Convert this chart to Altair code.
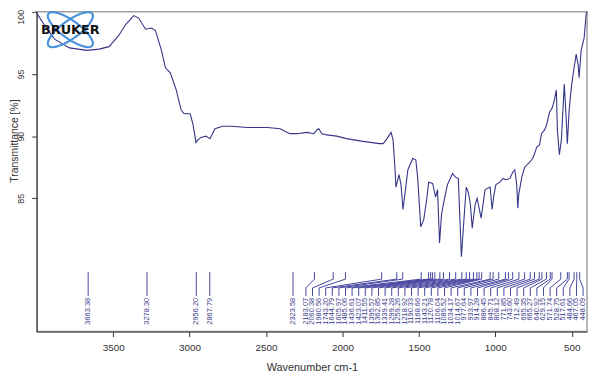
import altair as alt
import numpy as np
import pandas as pd

# ---- spectrum (wavenumber cm-1, transmittance %) ----
wavenumber = [4000, 3948, 3883, 3786, 3670, 3592, 3527, 3463, 3417, 3365, 3333, 3288, 3249, 3223,
              3184, 3158, 3126, 3087, 3055, 3035, 2996, 2977, 2958, 2945, 2925, 2893, 2867, 2834,
              2783, 2731, 2621, 2491, 2407, 2362, 2342, 2297, 2232, 2187, 2168, 2155, 2135, 2103,
              2038, 1973, 1876, 1760, 1734, 1708, 1682, 1669, 1663, 1656, 1650, 1630, 1617, 1604,
              1592, 1572, 1540, 1520, 1507, 1488, 1468, 1449, 1436, 1410, 1391, 1378, 1365, 1352,
              1339, 1313, 1280, 1261, 1242, 1222, 1203, 1190, 1177, 1164, 1151, 1132, 1119, 1106,
              1093, 1067, 1034, 1021, 1009, 996, 970, 950, 931, 905, 886, 873, 860, 853, 847, 827,
              808, 775, 756, 743, 730, 711, 698, 678, 665, 646, 627, 614, 601, 594, 581, 568, 549,
              536, 529, 517, 503, 491, 471, 458, 452, 439, 419, 406, 400]
transmittance = [99.9, 98.9, 97.8, 97.1, 96.9, 97.0, 97.2, 98.1, 99.0, 99.7, 99.5, 98.6, 98.7, 98.5,
                 96.9, 95.5, 95.1, 93.7, 92.1, 91.8, 91.8, 90.9, 89.5, 89.7, 89.9, 90.0, 89.8, 90.6,
                 90.8, 90.8, 90.7, 90.7, 90.6, 90.3, 90.2, 90.2, 90.3, 90.2, 90.5, 90.6, 90.2, 90.1,
                 90.0, 89.8, 89.6, 89.4, 89.4, 89.8, 90.3, 89.7, 88.6, 87.3, 85.9, 86.9, 86.1, 84.1,
                 85.3, 87.3, 88.2, 88.1, 86.5, 82.7, 83.3, 84.9, 86.3, 86.2, 85.1, 85.7, 81.4, 83.7,
                 84.6, 86.1, 87.0, 86.7, 86.6, 80.3, 83.7, 85.9, 85.5, 84.6, 82.6, 84.5, 85.0, 84.2,
                 83.4, 85.7, 85.9, 84.1, 85.3, 86.1, 86.3, 86.6, 86.5, 86.6, 87.1, 87.3, 86.1, 84.2,
                 85.3, 86.7, 87.5, 87.9, 88.2, 88.6, 89.1, 89.3, 90.2, 90.5, 90.9, 91.9, 92.3, 92.9,
                 93.7, 90.5, 88.5, 89.7, 94.2, 91.3, 89.4, 92.1, 93.9, 95.0, 96.6, 95.7, 94.7, 96.9,
                 97.9, 99.8, 100.0]

# ---- peak picks ----
peaks_isolated = [3663.38, 3278.30, 2956.20, 2867.79, 2323.58]
peaks_crowded = [2183.07, 2060.38, 1980.56, 1743.20, 1644.79, 1605.97, 1485.06, 1436.61, 1423.07,
                 1411.55, 1395.57, 1362.85, 1339.41, 1299.28, 1259.26, 1218.92, 1190.33, 1168.66,
                 1143.21, 1120.78, 1106.04, 1089.52, 1034.17, 1014.67, 977.64, 933.97, 914.28,
                 886.45, 845.71, 808.12, 771.85, 743.60, 712.49, 695.35, 665.27, 640.92, 629.15,
                 571.74, 528.75, 517.61, 484.66, 467.05, 448.09]

x_ticks = [500, 1000, 1500, 2000, 2500, 3000, 3500]
y_ticks = [85, 90, 95, 100]

spec = pd.DataFrame({"wn": wavenumber, "t": transmittance})

# label layout: isolated labels sit under their peak, crowded ones are spread evenly
label_x = peaks_isolated + list(np.linspace(2239, 426, len(peaks_crowded)))
all_peaks = peaks_isolated + peaks_crowded
ann = pd.DataFrame({
    "peak": all_peaks,
    "lx": label_x,
    "label": [f"{p:.2f}" for p in all_peaks],
})
ann["y_top"] = 79.06
ann["y_k1"] = 78.50
ann["y_k2"] = 77.79
ann["y_bot"] = 77.15
ann["y_lab"] = 76.99

xscale = alt.Scale(domain=[400, 4000], reverse=True, nice=False, zero=False)
yscale = alt.Scale(domain=[74.28, 100], nice=False, zero=False)

xaxis = alt.Axis(values=x_ticks, format="d", title="Wavenumber cm-1", grid=False,
                 tickSize=5, labelPadding=6, titlePadding=9, labelFontSize=10, titleFontSize=11)
yaxis = alt.Axis(values=y_ticks, title="Transmittance [%]", grid=False, tickSize=5,
                 labelAngle=270, labelAlign="center", labelBaseline="bottom",
                 labelPadding=6, labelFontSize=9, titleFontSize=10.5,
                 labelOffset={"condition": {"test": "datum.value == 100", "value": 5}, "value": 0},
                 titleAngle=270, titleBaseline="bottom", titleAlign="center",
                 titleX=-17, titleY=130)

ANN_COLOR = "#4545a0"
TXT_COLOR = "#3a3a8c"

line = alt.Chart(spec).mark_line(color="#35358a", strokeWidth=1.1).encode(
    x=alt.X("wn:Q", scale=xscale, axis=xaxis),
    y=alt.Y("t:Q", scale=yscale, axis=yaxis),
)

seg1 = alt.Chart(ann).mark_rule(color=ANN_COLOR, strokeWidth=1).encode(
    x=alt.X("peak:Q", scale=xscale, axis=xaxis),
    y=alt.Y("y_top:Q", scale=yscale, axis=yaxis),
    y2="y_k1:Q",
)
seg2 = alt.Chart(ann).mark_rule(color=ANN_COLOR, strokeWidth=1).encode(
    x=alt.X("peak:Q", scale=xscale, axis=xaxis),
    y=alt.Y("y_k1:Q", scale=yscale, axis=yaxis),
    x2="lx:Q",
    y2="y_k2:Q",
)
seg3 = alt.Chart(ann).mark_rule(color=ANN_COLOR, strokeWidth=1).encode(
    x=alt.X("lx:Q", scale=xscale, axis=xaxis),
    y=alt.Y("y_k2:Q", scale=yscale, axis=yaxis),
    y2="y_bot:Q",
)
labels = alt.Chart(ann).mark_text(angle=270, align="right", baseline="middle", fontSize=7.5,
                                  color=TXT_COLOR, font="Liberation Sans").encode(
    x=alt.X("lx:Q", scale=xscale, axis=xaxis),
    y=alt.Y("y_lab:Q", scale=yscale, axis=yaxis),
    text="label:N",
)

# ---- decorative logo ----
logo_df = pd.DataFrame({"k": [0]})
ellipse = "M -1 0 A 1 0.33 0 1 1 1 0 A 1 0.33 0 1 1 -1 0 Z"
orb1 = alt.Chart(logo_df).mark_point(shape=ellipse, size=3000, angle=36, filled=False,
                                     stroke="#4a92dc", strokeWidth=2.2, opacity=1).encode(
    x=alt.value(34), y=alt.value(18))
orb2 = alt.Chart(logo_df).mark_point(shape=ellipse, size=3000, angle=324, filled=False,
                                     stroke="#4a92dc", strokeWidth=2.2, opacity=1).encode(
    x=alt.value(34), y=alt.value(18))
brand = alt.Chart(logo_df).mark_text(text="BRUKER", font="DejaVu Sans", fontWeight="bold",
                                     fontSize=13, color="#111111", baseline="middle",
                                     align="center").encode(x=alt.value(34), y=alt.value(18))

chart = alt.layer(line, seg1, seg2, seg3, labels, orb1, orb2, brand).properties(
    width=556, height=323,
    padding={"left": 29, "top": 2, "right": 5, "bottom": 42},
    autosize=alt.AutoSizeParams(type="none"),
).configure_view(stroke="#a0a0a0", strokeWidth=1.5).configure_axis(
    domainColor="#333333", tickColor="#333333", labelColor="#333333", titleColor="#333333",
    labelFont="Liberation Sans", titleFont="Liberation Sans", titleFontWeight="normal",
)

chart.save("out.html", embed_options={"renderer": "svg", "actions": False})
